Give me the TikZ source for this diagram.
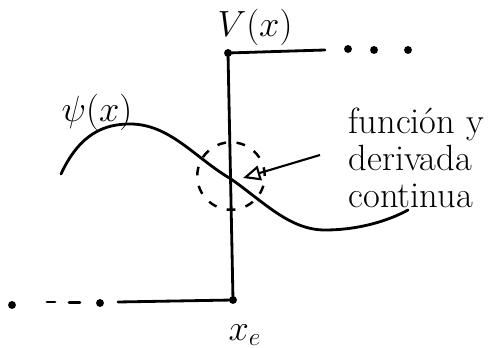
\documentclass[tikz,border=0pt]{standalone}
\usepackage{amsmath,amssymb}
\usepackage{tikz}
\usetikzlibrary{arrows.meta,positioning,calc}

\begin{document}
\begin{tikzpicture}[
  font=\huge,
  line/.style={line width=1.6pt, line cap=round},
  dot/.style={circle, fill, inner sep=0pt, minimum size=4.5pt},
  arr/.style={-{Triangle[open, length=3.5mm, width=3mm]}, line width=1.2pt}
]
  \useasboundingbox (0,0) rectangle (9.98,6.96);
  % potential step
  \coordinate (vtop) at (4.56,5.90);
  \coordinate (vbot) at (4.66,0.96);
  \coordinate (rend) at (6.50,5.96);
  \coordinate (lend) at (2.36,0.92);
  \draw[line] (rend) -- (vtop) -- (vbot) -- (lend);
  \node[dot] (d1) at (vtop) {};
  \node[dot] (d2) at (vbot) {};
  \node[dot] (r1) at (6.96,5.98) {};
  \node[dot] (r2) at (7.48,5.96) {};
  \node[dot] (r3) at (8.16,5.96) {};
  \node[dot] (l1) at (0.24,0.86) {};
  \node[dot] (l2) at (2.00,0.90) {};
  \draw[line] (0.94,0.92) -- (1.10,0.92);
  \draw[line] (1.38,0.91) -- (1.60,0.91);
  % wave function
  \coordinate (ps) at (1.22,3.48);
  \coordinate (pk) at (2.60,4.48);
  \coordinate (xc) at (4.62,3.38);
  \coordinate (tr) at (6.50,2.36);
  \coordinate (pe) at (8.16,2.76);
  \draw[line] (ps) .. controls (1.60,4.30) and (2.10,4.48) .. (pk)
    .. controls (3.40,4.48) and (3.90,3.80) .. (xc)
    .. controls (5.30,2.90) and (5.80,2.36) .. (tr)
    .. controls (7.20,2.36) and (7.80,2.56) .. (pe);
  \node[circle, draw, line width=1.4pt, minimum size=1.35cm,
        dash pattern=on 5pt off 6pt] (zone) at (4.62,3.44) {};
  % labels
  \node (vlab) at (5.10,6.42) {$V(x)$};
  \node (plab) at (1.94,4.72) {$\psi(x)$};
  \node (xlab) at (4.90,0.26) {$x_e$};
  \node[align=left, anchor=west] (note) at (6.85,3.80)
    {funci\'on y\\[-4pt] derivada\\[-4pt] continua};
  \coordinate (tail) at (6.40,3.86);
  \coordinate (head) at (4.86,3.40);
  \draw[arr] (tail) -- (head);
\end{tikzpicture}
\end{document}
